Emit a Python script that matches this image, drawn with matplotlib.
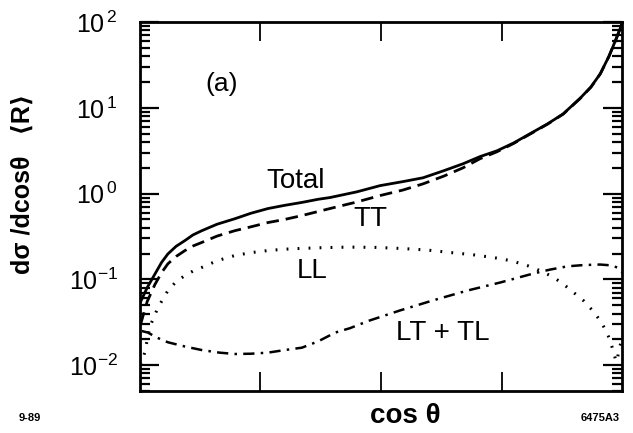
import matplotlib
matplotlib.use('Agg')
import matplotlib.pyplot as plt
import numpy as np
from matplotlib.ticker import LogLocator, NullFormatter, FixedLocator

plt.rcParams['font.family'] = ['Liberation Sans', 'DejaVu Sans']
plt.rcParams['mathtext.fontset'] = 'custom'
plt.rcParams['mathtext.rm'] = 'Liberation Sans'
plt.rcParams['mathtext.it'] = 'Liberation Sans'

# values (cos theta, dsigma/dcos theta in units of R)
total_x = [-0.997, -0.97, -0.938, -0.91, -0.884, -0.85, -0.813, -0.78, -0.743, -0.68,
           -0.606, -0.54, -0.469, -0.4, -0.328, -0.26, -0.212, -0.1, -0.004, 0.09,
           0.174, 0.26, 0.34, 0.41, 0.481, 0.55, 0.618, 0.69, 0.755, 0.826,
           0.87, 0.909, 0.945, 0.971, 0.99, 1.0]
total_y = [0.055, 0.08, 0.115, 0.158, 0.198, 0.243, 0.284, 0.33, 0.37, 0.44,
           0.51, 0.59, 0.67, 0.73, 0.79, 0.86, 0.9, 1.05, 1.24, 1.38,
           1.53, 1.85, 2.23, 2.7, 3.16, 3.9, 5.0, 6.5, 8.5, 13.0,
           17.5, 25.0, 40.0, 60.0, 82.0, 100.0]

tt_x = [-0.997, -0.97, -0.938, -0.91, -0.884, -0.85, -0.813, -0.78, -0.743, -0.68,
        -0.606, -0.54, -0.469, -0.4, -0.328, -0.26, -0.212, -0.1, -0.004, 0.09,
        0.174, 0.26, 0.34, 0.41, 0.481, 0.55, 0.618, 0.69, 0.755, 0.826,
        0.87, 0.909, 0.945, 0.971, 0.99, 1.0]
tt_y = [0.03, 0.055, 0.087, 0.12, 0.152, 0.185, 0.217, 0.245, 0.27, 0.32,
        0.37, 0.41, 0.46, 0.5, 0.555, 0.62, 0.67, 0.8, 0.95, 1.1,
        1.3, 1.6, 2.0, 2.55, 3.08, 3.85, 4.95, 6.45, 8.45, 12.9,
        17.4, 24.9, 39.9, 59.9, 81.9, 99.9]

ll_x = [-0.996, -0.98, -0.959, -0.925, -0.884, -0.85, -0.813, -0.78, -0.743, -0.68,
        -0.606, -0.54, -0.469, -0.4, -0.328, -0.23, -0.129, -0.02, 0.091, 0.19,
        0.286, 0.38, 0.465, 0.54, 0.606, 0.66, 0.701, 0.74, 0.772, 0.838,
        0.875, 0.909, 0.93, 0.95, 0.971, 0.978, 0.988, 1.0]
ll_y = [0.01, 0.014, 0.028, 0.047, 0.074, 0.094, 0.111, 0.125, 0.138, 0.165,
        0.19, 0.205, 0.217, 0.225, 0.23, 0.235, 0.238, 0.236, 0.229, 0.22,
        0.206, 0.194, 0.18, 0.165, 0.145, 0.126, 0.111, 0.095, 0.081, 0.057,
        0.044, 0.033, 0.026, 0.0195, 0.012, 0.011, 0.016, 0.02]

lt_x = [-0.992, -0.967, -0.93, -0.884, -0.813, -0.743, -0.67, -0.606, -0.54, -0.469,
        -0.4, -0.328, -0.26, -0.19, -0.129, -0.05, 0.079, 0.216, 0.357, 0.494,
        0.631, 0.7, 0.772, 0.84, 0.909, 0.95, 0.979, 1.0]
lt_y = [0.025, 0.024, 0.021, 0.0185, 0.0165, 0.015, 0.014, 0.0135, 0.0136, 0.014,
        0.015, 0.016, 0.019, 0.024, 0.027, 0.033, 0.0435, 0.057, 0.074, 0.092,
        0.117, 0.13, 0.142, 0.147, 0.149, 0.146, 0.138, 0.12]

ytick_vals = [1e-2, 1e-1, 1e0, 1e1, 1e2]
ytick_labels = [r'$10^{-2}$', r'$10^{-1}$', r'$10^{\,0}$', r'$10^{\,1}$', r'$10^{\,2}$']
xtick_vals = [-0.5, 0.0, 0.5]

fig = plt.figure(figsize=(6.33, 4.33), dpi=100)
ax = fig.add_axes([0.221, 0.097, 0.762, 0.852])

ax.plot(total_x, total_y, color='black', lw=2.0, ls='-', solid_capstyle='round')
ax.plot(tt_x, tt_y, color='black', lw=2.0, ls=(0, (4.5, 2.5)))
ax.plot(ll_x, ll_y, color='black', lw=2.2, ls=(0, (0.6, 3.0)))
ax.plot(lt_x, lt_y, color='black', lw=1.8, ls=(0, (4.5, 2.5, 1.0, 2.5)))

ax.set_yscale('log')
ax.set_xlim(-1, 1)
ax.set_ylim(0.005, 100)

ax.yaxis.set_major_locator(FixedLocator(ytick_vals))
ax.set_yticklabels(ytick_labels, fontsize=18)
ax.yaxis.set_minor_locator(LogLocator(base=10, subs=np.arange(2, 10), numticks=20))
ax.yaxis.set_minor_formatter(NullFormatter())
ax.xaxis.set_major_locator(FixedLocator(xtick_vals))
ax.set_xticklabels([])

ax.tick_params(axis='y', which='major', direction='in', length=14, width=1.6,
               left=True, right=True, pad=16)
ax.tick_params(axis='y', which='minor', direction='in', length=7, width=1.6,
               left=True, right=True)
ax.tick_params(axis='x', which='major', direction='in', length=14, width=1.3,
               top=True, bottom=True)
for sp in ax.spines.values():
    sp.set_linewidth(2.0)

ax.text(-0.66, 19, '(a)', fontsize=19, ha='center', va='center')
ax.text(-0.353, 1.42, 'Total', fontsize=20, ha='center', va='center')
ax.text(-0.046, 0.51, 'TT', fontsize=20, ha='center', va='center')
ax.text(-0.286, 0.127, 'LL', fontsize=20, ha='center', va='center')
ax.text(0.257, 0.0235, 'LT + TL', fontsize=20, ha='center', va='center')

fig.text(0.036, 0.575, 'd\u03c3 /dcos\u03b8   \u27e8R\u27e9', rotation=90,
         fontsize=18, fontweight='bold', ha='center', va='center')
fig.text(0.64, 0.04, 'cos \u03b8', fontsize=20, fontweight='bold', ha='center', va='center')
fig.text(0.047, 0.035, '9-89', fontsize=8, fontweight='bold', ha='center', va='center')
fig.text(0.948, 0.035, '6475A3', fontsize=8, fontweight='bold', ha='center', va='center')

fig.savefig('out.png', dpi=100)
